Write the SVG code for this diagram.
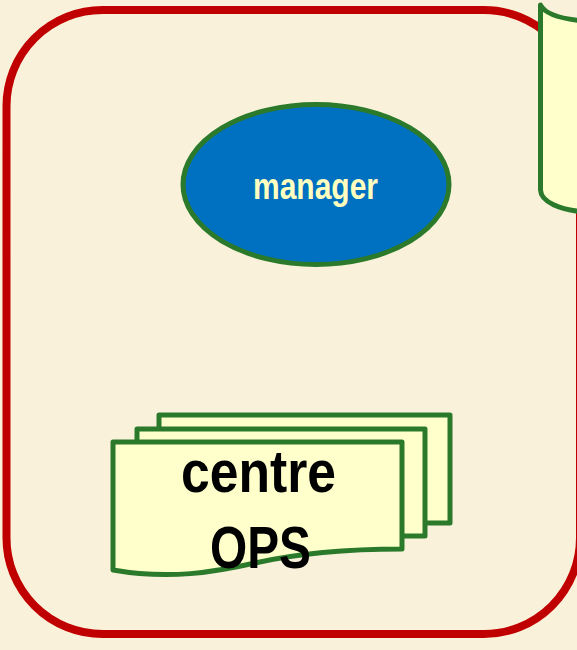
<svg xmlns="http://www.w3.org/2000/svg" width="577" height="650" viewBox="0 0 577 650">
  <style>
    .bg { fill: #FAF1DA; }
    .frame { fill: none; stroke: #C00000; stroke-width: 8; }
    .doc { fill: #FFFFCC; stroke: #2B7A2B; stroke-width: 5; stroke-linejoin: round; stroke-linecap: round; }
    .oval { fill: #0070C0; stroke: #2B7A2B; stroke-width: 5; }
    .lbl-big { font-family: "Liberation Sans", Arial, sans-serif; font-weight: bold; font-size: 60px; fill: #000000; }
    .lbl-small { font-family: "Liberation Sans", Arial, sans-serif; font-weight: bold; font-size: 36px; fill: #FFFFC0; }
  </style>

  <!-- parchment background -->
  <rect class="bg" x="0" y="0" width="577" height="650"/>

  <!-- rounded red boundary -->
  <g id="boundary">
    <rect class="frame" x="6.5" y="10" width="573.5" height="624" rx="96" ry="96"/>
  </g>

  <!-- document on the right edge (partly outside the view) -->
  <g id="side-document">
    <path class="doc" d="M540.5,5 C545,14 560,19 585,21 L585,212 C560,210 541,202 540.5,190 Z"/>
  </g>

  <!-- manager oval -->
  <g id="manager">
    <ellipse class="oval" cx="316" cy="184.5" rx="133" ry="80"/>
    <text class="lbl-small" x="253" y="199" textLength="125" lengthAdjust="spacingAndGlyphs">manager</text>
  </g>

  <!-- stacked documents: centre OPS -->
  <g id="centre-ops">
    <path class="doc" d="M159,415 H450 V523 H159 Z"/>
    <path class="doc" d="M137,429 H425 V536 H137 Z"/>
    <path class="doc" d="M113,442 H402 V549 C340,549 295,554 255,563 C215,572 170,580 113,570 Z"/>
    <text class="lbl-big" x="181" y="492" textLength="155" lengthAdjust="spacingAndGlyphs">centre</text>
    <text class="lbl-big" x="210" y="568" textLength="101" lengthAdjust="spacingAndGlyphs">OPS</text>
  </g>

  <!-- connectors -->
  <g id="connectors"/>
</svg>
